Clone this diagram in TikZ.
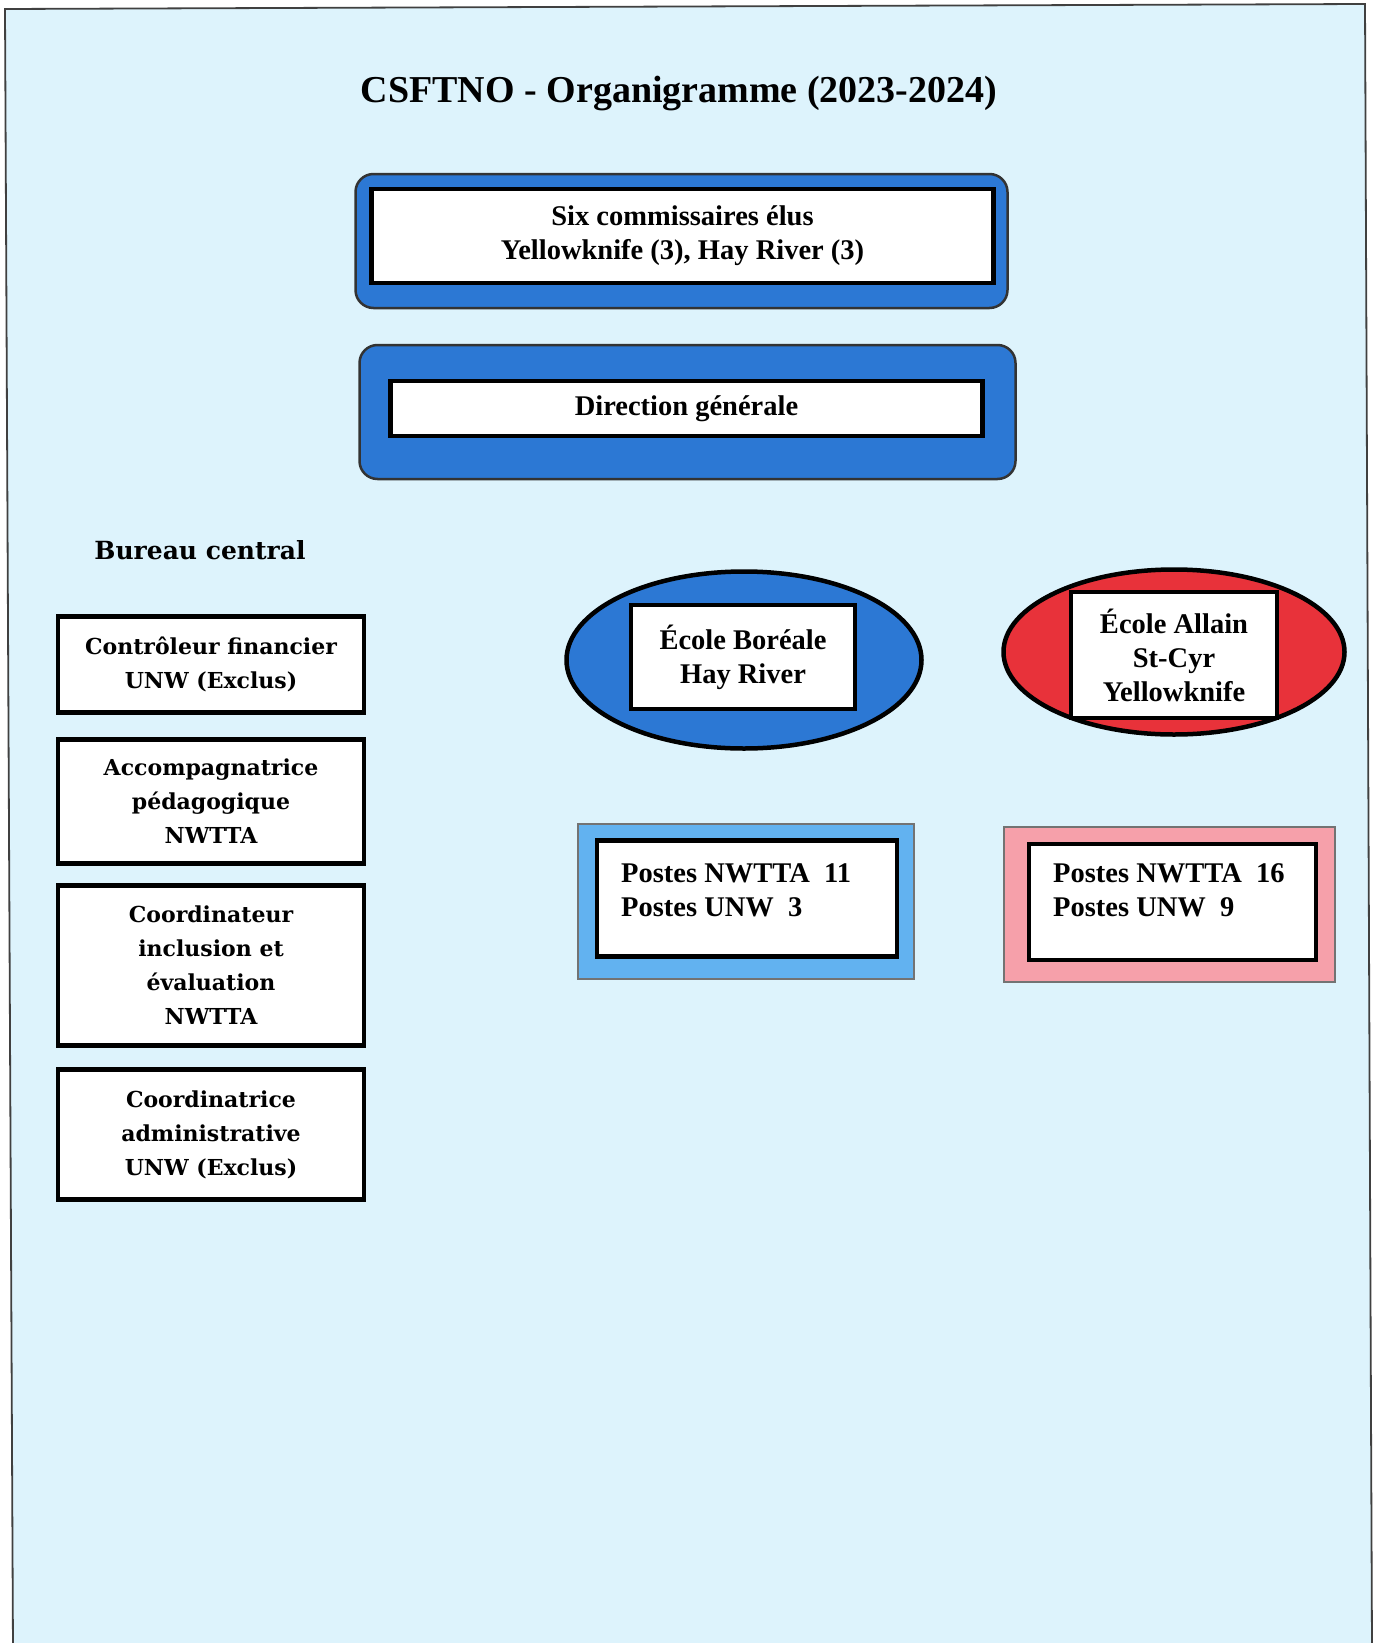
\documentclass[tikz,border=0pt]{standalone}
\usepackage{fontspec}
\setmainfont{Liberation Serif}
\newfontfamily\slabfont{DejaVu Serif}
\usetikzlibrary{positioning,shapes.geometric}
\definecolor{pagebg}{RGB}{221,243,252}
\definecolor{boxblue}{RGB}{44,120,212}
\definecolor{schoolred}{RGB}{232,50,58}
\definecolor{postblue}{RGB}{98,178,240}
\definecolor{postpink}{RGB}{246,160,170}

\begin{document}
\begin{tikzpicture}[x=1pt,y=-1pt,
    plainbox/.style={draw=black,line width=4.5pt,fill=white,inner sep=0pt},
    bluepanel/.style={draw=black!80,line width=2.5pt,fill=boxblue,rounded corners=18pt,inner sep=0pt},
    schoolshape/.style={ellipse,draw=black,line width=4.5pt,inner sep=0pt},
    postpanel/.style={draw=black!55,line width=1.5pt,inner sep=0pt},
    maintext/.style={font=\bfseries\fontsize{28.5}{34}\selectfont,align=center},
    posttext/.style={font=\bfseries\fontsize{28.5}{34}\selectfont,align=left,inner sep=0pt},
    slabtext/.style={font=\slabfont\bfseries\fontsize{22}{34}\selectfont,align=center}]

    \useasboundingbox (0,0) rectangle (1374,1643);

    % Page and scanned frame
    \fill[white] (0,0) rectangle (1374,1643);
    \filldraw[fill=pagebg,draw=black!75,line width=1.8pt] (13,1650) -- (5,9) -- (1365,4) -- (1372,1650);

    \node[font=\bfseries\fontsize{38}{44}\selectfont] (title) at (679,94) {CSFTNO - Organigramme (2023-2024)};

    % Board and direction
    \node[bluepanel,minimum width=652pt,minimum height=134pt] (boardpanel) at (681.5,241) {};
    \node[plainbox,maintext,minimum width=622pt,minimum height=94pt] (board) at (682.5,236)
        {Six commissaires élus\\Yellowknife (3), Hay River (3)};
    \node[bluepanel,minimum width=656pt,minimum height=134pt] (dirpanel) at (687.5,412) {};
    \node[plainbox,maintext,minimum width=592pt,minimum height=55pt] (direction) at (686.5,408.5)
        {Direction générale};

    % Bureau central
    \node[font=\slabfont\bfseries\fontsize{25}{30}\selectfont] (bureau) at (200,550) {Bureau central};
    \foreach \n/\cy/\h/\txt in {ctrl/664.5/96/{Contrôleur financier\\UNW (Exclus)},
                                 accomp/801.5/124/{Accompagnatrice\\pédagogique\\NWTTA},
                                 inclus/965.5/160/{Coordinateur\\inclusion et\\évaluation\\NWTTA},
                                 admin/1134.5/130/{Coordinatrice\\administrative\\UNW (Exclus)}} {
        \node[plainbox,slabtext,minimum width=306pt,minimum height=\h pt] (\n) at (211,\cy) {\txt};
    }

    % Schools
    \node[schoolshape,fill=boxblue,minimum width=355pt,minimum height=177pt] (boreal) at (744,660) {};
    \node[plainbox,maintext,minimum width=224pt,minimum height=104pt] (borealname) at (743,657)
        {École Boréale\\Hay River};
    \node[schoolshape,fill=schoolred,minimum width=341pt,minimum height=165pt] (allain) at (1174,652) {};
    \node[plainbox,maintext,minimum width=206pt,minimum height=126pt] (allainname) at (1174,655)
        {École Allain\\St-Cyr\\Yellowknife};

    % Staff counts
    \node[postpanel,fill=postblue,minimum width=336pt,minimum height=155pt] (borealpost) at (746,901.5) {};
    \node[plainbox,minimum width=300pt,minimum height=116pt] (borealbox) at (747,898.5) {};
    \node[posttext,anchor=west] (borealstaff) at (621,890) {Postes NWTTA~~11\\Postes UNW~~3};
    \node[postpanel,fill=postpink,minimum width=331pt,minimum height=155pt] (allainpost) at (1169.5,904.5) {};
    \node[plainbox,minimum width=287pt,minimum height=116pt] (allainbox) at (1172.5,902) {};
    \node[posttext,anchor=west] (allainstaff) at (1053,890) {Postes NWTTA~~16\\Postes UNW~~9};

\end{tikzpicture}
\end{document}
